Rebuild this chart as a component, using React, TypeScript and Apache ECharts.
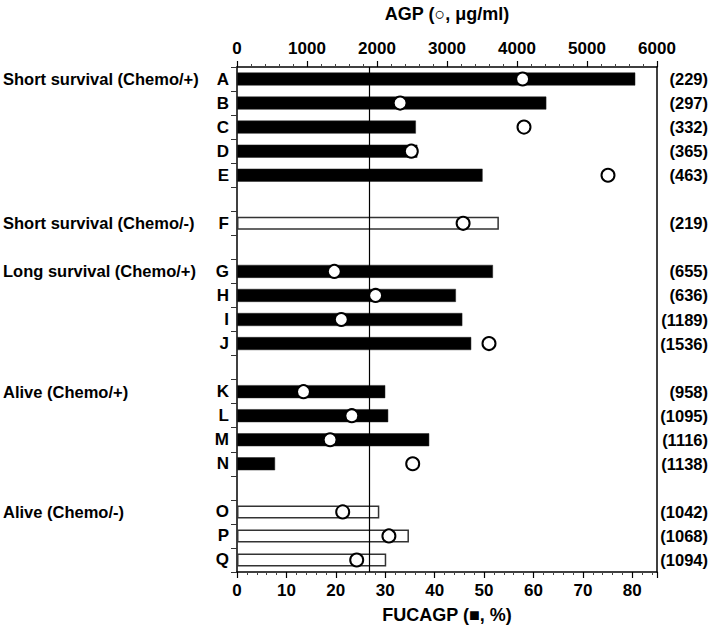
import React, { useEffect, useRef } from "react";
import * as echarts from "echarts";

const groupNames = [
  "Short survival (Chemo/+)",
  "Short survival (Chemo/-)",
  "Long survival (Chemo/+)",
  "Alive (Chemo/+)",
  "Alive (Chemo/-)",
];
const groupSizes = [5, 1, 4, 4, 3];
const groupChemo = [true, false, true, true, false];
const patients = ["A", "B", "C", "D", "E", "F", "G", "H", "I", "J", "K", "L", "M", "N", "O", "P", "Q"];
const fucagp = [80.6, 62.6, 36.2, 36.5, 49.7, 53.0, 51.8, 44.3, 45.6, 47.4, 30.0, 30.6, 38.9, 7.7, 28.8, 34.8, 30.2];
const agp = [4080, 2330, 4100, 2490, 5300, 3230, 1390, 1980, 1490, 3600, 950, 1640, 1330, 2510, 1510, 2170, 1710];
const patientNumbers = [229, 297, 332, 365, 463, 219, 655, 636, 1189, 1536, 958, 1095, 1116, 1138, 1042, 1068, 1094];
const cutoffAgp = 1890;
const fucagpTicks = { min: 0, max: 85, interval: 10 };
const agpTicks = { min: 0, max: 6000, interval: 1000 };

const FONT = "'Liberation Sans Narrow', 'Arial Narrow', 'Liberation Sans', Arial, sans-serif";

type Row = { key: string; patient: number; group: number; first: boolean; chemo: boolean };

function buildRows(): Row[] {
  const rows: Row[] = [];
  let p = 0;
  groupSizes.forEach((size, g) => {
    for (let i = 0; i < size; i++) {
      rows.push({ key: patients[p], patient: p, group: g, first: i === 0, chemo: groupChemo[g] });
      p++;
    }
    if (g < groupSizes.length - 1) rows.push({ key: `gap${g}`, patient: -1, group: g, first: false, chemo: false });
  });
  return rows;
}

export default function App() {
  const ref = useRef<HTMLDivElement>(null);
  useEffect(() => {
    if (!ref.current) return;
    const chart = echarts.init(ref.current, undefined, { renderer: "svg" });
    const rows = buildRows();
    const cats = rows.map((r) => r.key);
    const labelStyle = { fontFamily: FONT, fontWeight: "bold" as const, fontSize: 17, color: "#000" };

    const barData = rows.map((r) =>
      r.patient < 0
        ? "-"
        : {
            value: fucagp[r.patient],
            itemStyle: r.chemo
              ? { color: "#000", borderColor: "#222", borderWidth: 0.5 }
              : { color: "#fff", borderColor: "#333", borderWidth: 1.5 },
          }
    );
    const circleData = rows.filter((r) => r.patient >= 0).map((r) => [agp[r.patient], r.key]);

    const catAxisBase = {
      type: "category" as const,
      data: cats,
      inverse: true,
      gridIndex: 0,
    };

    chart.setOption({
      animation: false,
      grid: { left: 237, right: 58, top: 65, bottom: 62, containLabel: false },
      xAxis: [
        {
          type: "value",
          position: "bottom",
          min: fucagpTicks.min,
          max: fucagpTicks.max,
          interval: fucagpTicks.interval,
          name: "FUCAGP (■, %)",
          nameLocation: "middle",
          nameGap: 34,
          nameTextStyle: { ...labelStyle, fontSize: 18 },
          axisLine: { show: true, lineStyle: { color: "#000", width: 1.5 } },
          axisTick: { show: true, length: 6, lineStyle: { color: "#000", width: 1.2 } },
          minorTick: { show: true, splitNumber: 5, length: 3, lineStyle: { color: "#444", width: 1 } },
          splitLine: { show: false },
          axisLabel: {
            ...labelStyle,
            margin: 10,
            showMaxLabel: false,
            formatter: (v: number) => (v % 10 === 0 ? String(v) : ""),
          },
        },
        {
          type: "value",
          position: "top",
          min: agpTicks.min,
          max: agpTicks.max,
          interval: agpTicks.interval,
          name: "AGP (○, μg/ml)",
          nameLocation: "middle",
          nameGap: 44,
          nameTextStyle: { ...labelStyle, fontSize: 18 },
          axisLine: { show: true, lineStyle: { color: "#000", width: 1.5 } },
          axisTick: { show: true, length: 6, lineStyle: { color: "#000", width: 1.2 } },
          minorTick: { show: true, splitNumber: 5, length: 3, lineStyle: { color: "#444", width: 1 } },
          splitLine: { show: false },
          axisLabel: { ...labelStyle, margin: 10, formatter: (v: number) => String(v) },
        },
      ],
      yAxis: [
        {
          ...catAxisBase,
          position: "left",
          axisLine: { show: true, lineStyle: { color: "#000", width: 1.5 } },
          axisTick: { show: true, length: 6, lineStyle: { color: "#333", width: 1 } },
          axisLabel: {
            ...labelStyle,
            margin: 8,
            formatter: (v: string) => (v.startsWith("gap") ? "" : v),
          },
        },
        {
          ...catAxisBase,
          position: "left",
          axisLine: { show: false },
          axisTick: { show: false },
          axisLabel: {
            ...labelStyle,
            fontSize: 16.5,
            align: "left",
            margin: 234,
            formatter: (v: string, i: number) => (rows[i] && rows[i].first ? groupNames[rows[i].group] : ""),
          },
        },
        {
          ...catAxisBase,
          position: "right",
          axisLine: { show: true, lineStyle: { color: "#000", width: 1.5 } },
          axisTick: { show: false },
          axisLabel: {
            ...labelStyle,
            fontSize: 16.5,
            align: "right",
            margin: 51,
            formatter: (v: string, i: number) =>
              rows[i] && rows[i].patient >= 0 ? `(${patientNumbers[rows[i].patient]})` : "",
          },
        },
      ],
      series: [
        {
          type: "bar",
          xAxisIndex: 0,
          yAxisIndex: 0,
          data: barData,
          barWidth: 13,
          z: 2,
          markLine: {
            silent: true,
            symbol: "none",
            label: { show: false },
            lineStyle: { color: "#000", width: 1.2, type: "solid" },
            data: [{ xAxis: (cutoffAgp / agpTicks.max) * fucagpTicks.max }],
          },
        },
        {
          type: "scatter",
          xAxisIndex: 1,
          yAxisIndex: 0,
          data: circleData,
          symbol: "circle",
          symbolSize: 13,
          itemStyle: { color: "#fff", borderColor: "#000", borderWidth: 2, opacity: 1 },
          z: 5,
        },
      ],
    });
    return () => chart.dispose();
  }, []);
  return <div ref={ref} style={{ position: "fixed", left: 0, top: 0, width: 715, height: 634, background: "#fff" }} />;
}
